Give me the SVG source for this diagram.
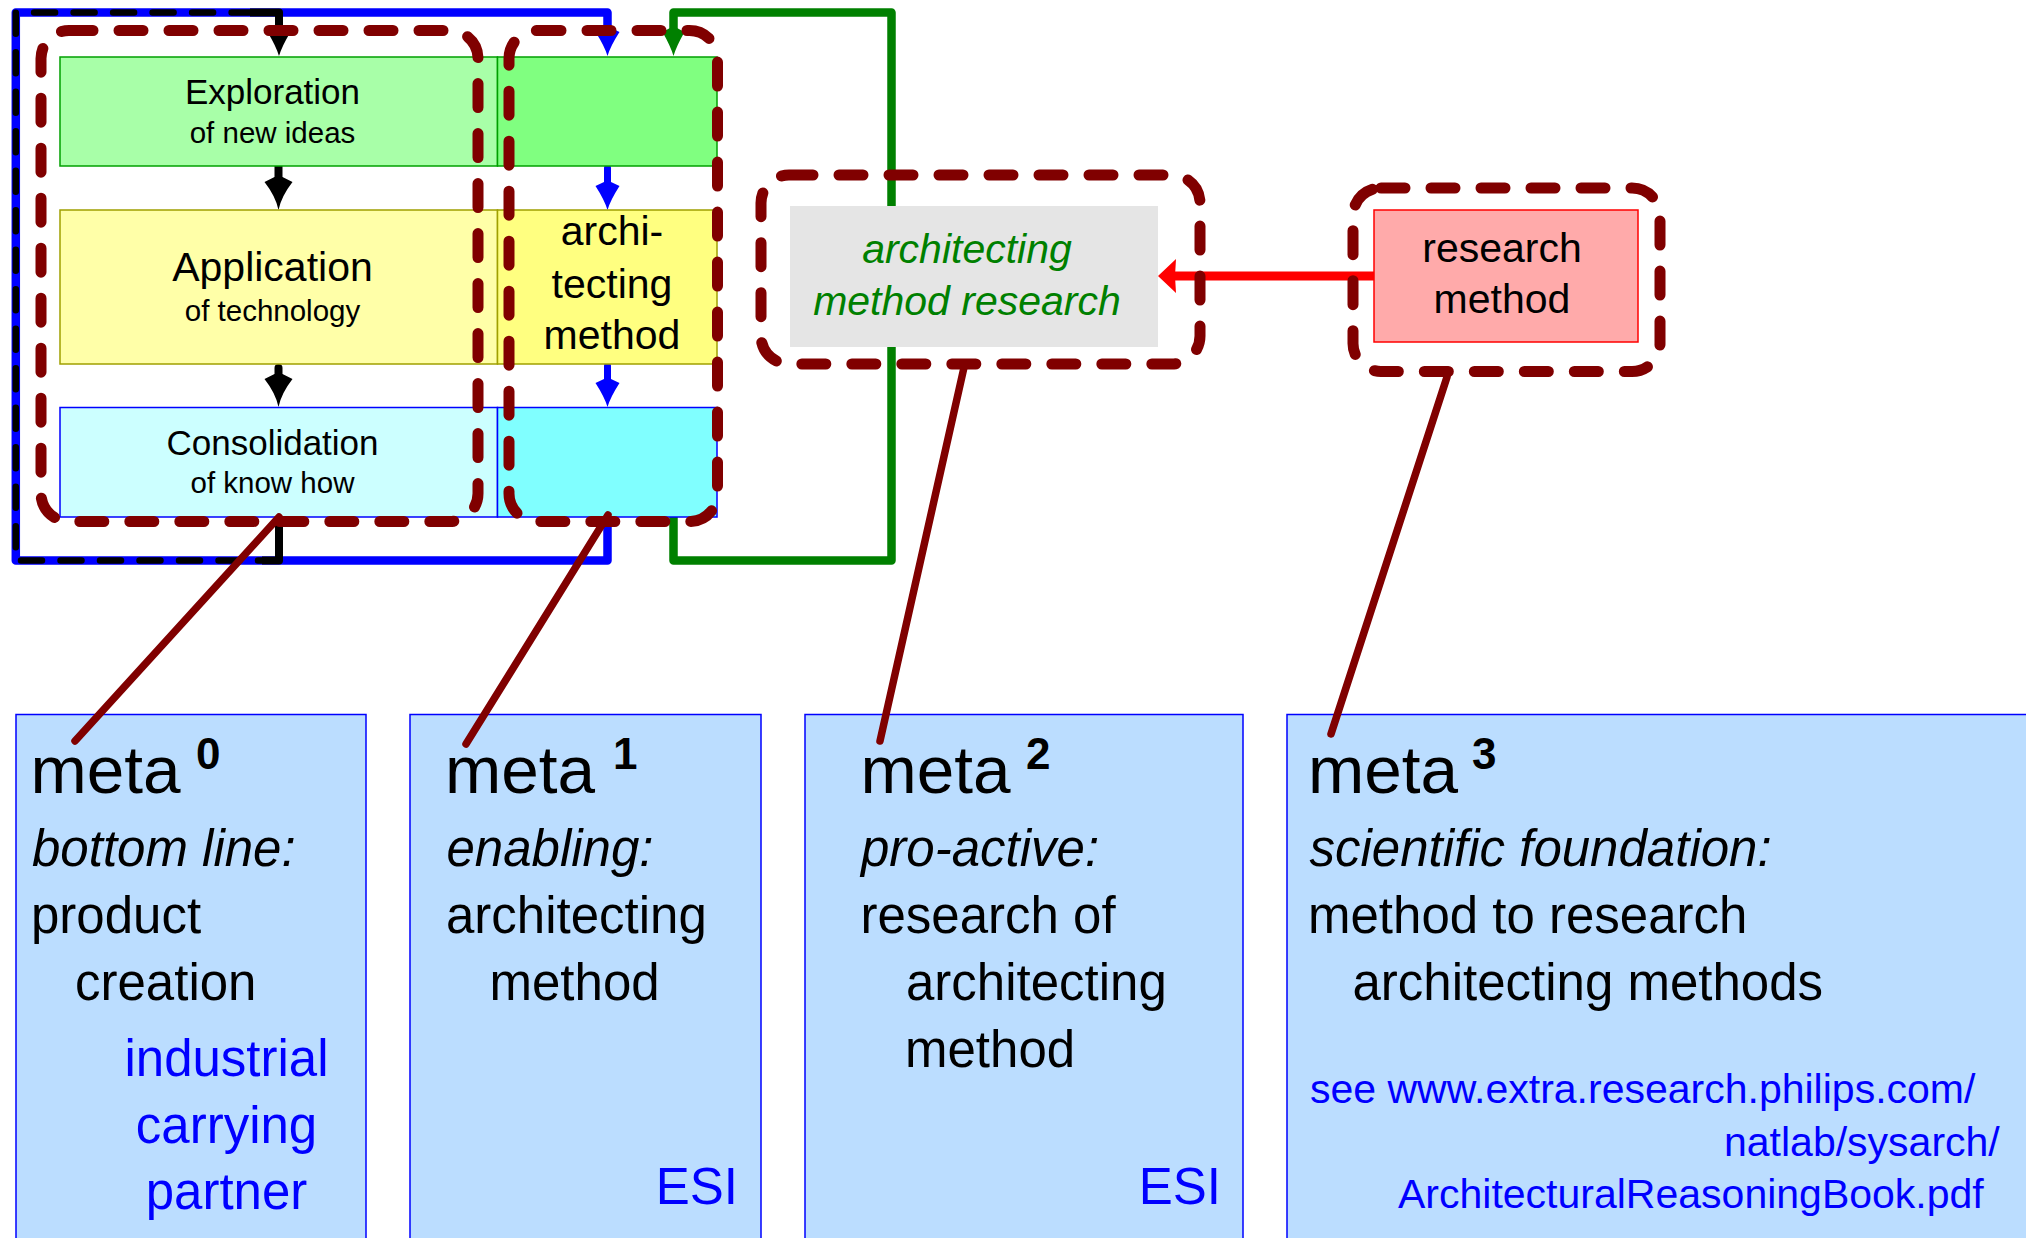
<svg xmlns="http://www.w3.org/2000/svg" width="2026" height="1238" viewBox="0 0 2026 1238">
<style>
text{font-family:"Liberation Sans",Arial,sans-serif;fill:#000}
.c{text-anchor:middle}
.e{text-anchor:end}
.it{font-style:italic}
.loop{fill:none;stroke-width:8.5;stroke-linejoin:round}
.grp{fill:none;stroke:#800000;stroke-width:11;stroke-dasharray:24 26;stroke-linecap:round}
.lead{stroke:#800000;stroke-width:7.5;stroke-linecap:round}
.meta{fill:#bbddff;stroke:#0000ff;stroke-width:1.5}
.big{font-size:67.5px}
.sup{font-size:44px;font-weight:bold}
.t51{font-size:51px}
.t41{font-size:41px}
.blue{fill:#0000ff}
.s35{font-size:35px}
.s29{font-size:29.5px}
</style>
<defs>
<marker id="ahK" markerUnits="userSpaceOnUse" markerWidth="1" markerHeight="1" refX="-22" refY="0" orient="auto" overflow="visible">
<path d="M0,0 Q-14,-3 -28,-14 L-33,-4 L-33,4 L-28,14 Q-14,3 0,0Z" fill="#000"/>
</marker>
<marker id="ahKs" markerUnits="userSpaceOnUse" markerWidth="1" markerHeight="1" refX="-18" refY="0" orient="auto" overflow="visible">
<path d="M0,0 Q-10,-3 -24,-11.5 L-28,-3.5 L-28,3.5 L-24,11.5 Q-10,3 0,0Z" fill="#000"/>
</marker>
<marker id="ahB" markerUnits="userSpaceOnUse" markerWidth="1" markerHeight="1" refX="-18" refY="0" orient="auto" overflow="visible">
<path d="M0,0 Q-10,-3 -24,-12 L-28,-3.5 L-28,3.5 L-24,12 Q-10,3 0,0Z" fill="#0000ff"/>
</marker>
<marker id="ahG" markerUnits="userSpaceOnUse" markerWidth="1" markerHeight="1" refX="-18" refY="0" orient="auto" overflow="visible">
<path d="M0,0 Q-10,-3 -24,-11 L-28,-3.5 L-28,3.5 L-24,11 Q-10,3 0,0Z" fill="#008000"/>
</marker>
<marker id="ahR" markerUnits="userSpaceOnUse" markerWidth="1" markerHeight="1" refX="-10" refY="0" orient="auto" overflow="visible">
<path d="M0,0 L-18,-17 L-17,0 L-18,17Z" fill="#ff0000"/>
</marker>
</defs>

<g id="connectors">
<path class="loop" stroke="#0000ff" d="M607.5,517 V560.5 H15.8 V12.5 H607.5 V38" marker-end="url(#ahB)"/>
<path class="loop" stroke="#008000" d="M673.5,517 V560.5 H891.5 V12.5 H673.5 V38" marker-end="url(#ahG)"/>
<path fill="none" stroke="#000" stroke-width="6.5" stroke-linecap="round" stroke-linejoin="round" stroke-dasharray="21 18.5" d="M279,560.5 H15.8 V12.5 H279"/>
<path fill="none" stroke="#000" stroke-width="8" stroke-linejoin="round" d="M279,517 V560.5 H262"/>
<path fill="none" stroke="#000" stroke-width="8" stroke-linejoin="round" d="M250,12.5 H279 V38" marker-end="url(#ahKs)"/>
<path fill="none" stroke="#000" stroke-width="8" stroke-linecap="round" d="M278.5,164 V188" marker-end="url(#ahK)"/>
<path fill="none" stroke="#000" stroke-width="8" stroke-linecap="round" d="M278.5,368 V385" marker-end="url(#ahK)"/>
<path fill="none" stroke="#0000ff" stroke-width="7" stroke-linecap="round" d="M607.5,168 V192" marker-end="url(#ahB)"/>
<path fill="none" stroke="#0000ff" stroke-width="7" stroke-linecap="round" d="M607.5,366 V389" marker-end="url(#ahB)"/>
<path fill="none" stroke="#ff0000" stroke-width="9" stroke-linecap="round" d="M1375,276 H1168" marker-end="url(#ahR)"/>
</g>

<g id="exploration">
<rect x="60" y="57" width="437.5" height="109" fill="#a8ffa8" stroke="#00a000" stroke-width="1.5"/>
<text class="c s35" x="272.5" y="104">Exploration</text>
<text class="c s29" x="272.5" y="142.5">of new ideas</text>
</g>
<g id="exploration-arch">
<rect x="497.5" y="57" width="219.5" height="109" fill="#80ff80" stroke="#00a000" stroke-width="1.5"/>
</g>
<g id="application">
<rect x="60" y="210" width="437.5" height="154" fill="#ffffa8" stroke="#a0a000" stroke-width="1.5"/>
<text class="c" x="272.5" y="281" font-size="41">Application</text>
<text class="c s29" x="272.5" y="321">of technology</text>
</g>
<g id="architecting-method">
<rect x="497.5" y="210" width="219.5" height="154" fill="#ffff80" stroke="#a0a000" stroke-width="1.5"/>
<text class="c t41" x="612" y="245">archi-</text>
<text class="c t41" x="612" y="298">tecting</text>
<text class="c t41" x="612" y="349">method</text>
</g>
<g id="consolidation">
<rect x="60" y="407.5" width="437.5" height="109.5" fill="#ccffff" stroke="#0000ff" stroke-width="1.5"/>
<text class="c s35" x="272.5" y="454.5">Consolidation</text>
<text class="c s29" x="272.5" y="493">of know how</text>
</g>
<g id="consolidation-arch">
<rect x="497.5" y="407.5" width="219.5" height="109.5" fill="#80ffff" stroke="#0000ff" stroke-width="1.5"/>
</g>
<g id="method-research">
<rect x="790" y="206" width="368" height="141" fill="#e5e5e5"/>
<text class="c it t41" x="967" y="263" style="fill:#008000">architecting</text>
<text class="c it t41" x="967" y="315" style="fill:#008000">method research</text>
</g>
<g id="research-method">
<rect x="1374" y="210" width="264" height="132" fill="#ffaaaa" stroke="#ff0000" stroke-width="1.5"/>
<text class="c t41" x="1502" y="262">research</text>
<text class="c t41" x="1502" y="313">method</text>
</g>

<g id="meta0">
<rect class="meta" x="16" y="714.5" width="350" height="540"/>
<text class="big" x="30.5" y="793">meta</text>
<text class="sup" x="196" y="769">0</text>
<text class="t51 it" x="32" y="866">bottom line:</text>
<text class="t51" x="31" y="933">product</text>
<text class="t51" x="75" y="1000">creation</text>
<text class="t51 c blue" x="226.5" y="1076">industrial</text>
<text class="t51 c blue" x="226.5" y="1143">carrying</text>
<text class="t51 c blue" x="226.5" y="1209">partner</text>
</g>
<g id="meta1">
<rect class="meta" x="410" y="714.5" width="351" height="540"/>
<text class="big" x="445" y="793">meta</text>
<text class="sup" x="613" y="769">1</text>
<text class="t51 it" x="446.5" y="866">enabling:</text>
<text class="t51" x="446" y="933">architecting</text>
<text class="t51" x="489.5" y="1000">method</text>
<text class="t51 e blue" x="738" y="1204">ESI</text>
</g>
<g id="meta2">
<rect class="meta" x="805" y="714.5" width="438" height="540"/>
<text class="big" x="860.5" y="793">meta</text>
<text class="sup" x="1026" y="769">2</text>
<text class="t51 it" x="861" y="866">pro-active:</text>
<text class="t51" x="860.5" y="933">research of</text>
<text class="t51" x="906" y="1000">architecting</text>
<text class="t51" x="905" y="1067">method</text>
<text class="t51 e blue" x="1221" y="1204">ESI</text>
</g>
<g id="meta3">
<rect class="meta" x="1287" y="714.5" width="760" height="540"/>
<text class="big" x="1308" y="793">meta</text>
<text class="sup" x="1472" y="769">3</text>
<text class="t51 it" x="1309.5" y="866">scientific foundation:</text>
<text class="t51" x="1308" y="933">method to research</text>
<text class="t51" x="1352.5" y="1000">architecting methods</text>
<text class="t41 blue" x="1310" y="1103">see www.extra.research.philips.com/</text>
<text class="t41 blue" x="1724" y="1156">natlab/sysarch/</text>
<text class="t41 blue" x="1398" y="1208" font-size="40.7">ArchitecturalReasoningBook.pdf</text>
</g>

<g id="groupings">
<rect class="grp" x="41" y="30.5" width="437" height="491" rx="28"/>
<rect class="grp" x="509" y="30.5" width="208.5" height="491" rx="28"/>
<rect class="grp" x="761" y="175" width="439" height="189" rx="28"/>
<rect class="grp" x="1353" y="188" width="307" height="183.5" rx="28"/>
</g>

<g id="leaders">
<line class="lead" x1="279" y1="517" x2="75" y2="741"/>
<line class="lead" x1="608" y1="515" x2="466" y2="744"/>
<line class="lead" x1="965" y1="363" x2="880" y2="741"/>
<line class="lead" x1="1447" y1="377" x2="1331" y2="734"/>
</g>
</svg>
